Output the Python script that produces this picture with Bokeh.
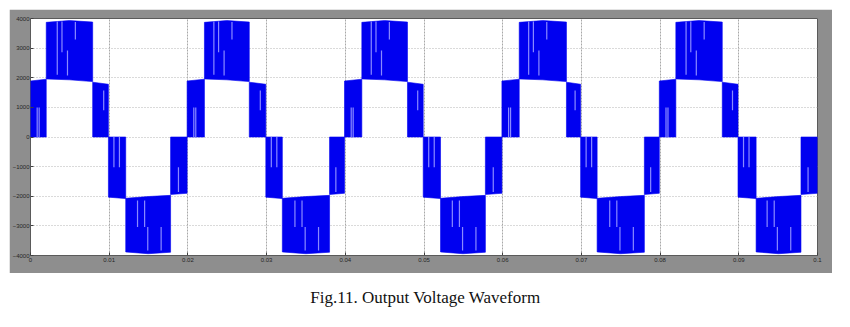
from bokeh.plotting import figure
from bokeh.layouts import column
from bokeh.models import Label, Range1d, FixedTicker
from bokeh.embed import file_html
from bokeh.resources import INLINE

# ---- data ----
x_ticks = [0.0, 0.01, 0.02, 0.03, 0.04, 0.05, 0.06, 0.07, 0.08, 0.09, 0.1]
x_tick_labels = ["0", "0.01", "0.02", "0.03", "0.04", "0.05", "0.06", "0.07", "0.08", "0.09", "0.1"]
y_ticks = [4000, 3000, 2000, 1000, 0, -1000, -2000, -3000, -4000]

# zero crossings (half-cycle boundaries), s
zero_cross = [0.0, 0.0099, 0.0199, 0.0299, 0.0399, 0.0499, 0.0599, 0.0699, 0.0799, 0.0899, 0.1]
# time where the output steps up to the outer level in each half cycle, s
rise_t = [0.0020, 0.0121, 0.0221, 0.0320, 0.0421, 0.0521, 0.0621, 0.0720, 0.0820, 0.0922]
# time where the output steps back to the inner level, s
fall_t = [0.0079, 0.0178, 0.0278, 0.0380, 0.0479, 0.0578, 0.0681, 0.0780, 0.0879, 0.0979]
polarity = [1, -1, 1, -1, 1, -1, 1, -1, 1, -1]

# envelope levels, V
pos_lead_top = [1890, 1950]
pos_peak = [3870, 3930, 3880]
pos_mid = [1960, 1930, 1870]
pos_trail_top = [1850, 1780]
neg_lead_bot = [-2030, -2080]
neg_peak = [-3880, -3940, -3890]
neg_mid = [-2070, -2010, -1970]
neg_trail_bot = [-1940, -1900]

# lighter PWM stripes: time after zero crossing (s), from V, to V
pos_stripes = [(0.00085, 0, 1000), (0.0011, 0, 1000), (0.0034, 3900, 2100),
               (0.0040, 3900, 2860), (0.0047, 2920, 2080), (0.0057, 3880, 3290),
               (0.0093, 1570, 900)]
neg_stripes = [(0.0007, 0, -1020), (0.0014, 0, -1020), (0.0037, -2140, -3040),
               (0.0046, -2140, -3040), (0.0050, -3040, -3830), (0.0067, -3040, -3830),
               (0.0089, -1020, -1860)]

# ---- build band polygons ----
xs, ys = [], []
sx0, sx1, sy0, sy1 = [], [], [], []
for i, s in enumerate(polarity):
    t0, t1 = zero_cross[i], zero_cross[i + 1]
    tr, tf = rise_t[i], fall_t[i]
    tm = (tr + tf) / 2
    if s > 0:
        lead, peak, mid, trail, stripes = pos_lead_top, pos_peak, pos_mid, pos_trail_top, pos_stripes
    else:
        lead, peak, mid, trail, stripes = neg_lead_bot, neg_peak, neg_mid, neg_trail_bot, neg_stripes
    xs.append([t0, t0, tr, tr]); ys.append([0, lead[0], lead[1], 0])
    xs.append([tr, tr, tm, tf, tf, tm]); ys.append([mid[0], peak[0], peak[1], peak[2], mid[2], mid[1]])
    xs.append([tf, tf, t1, t1]); ys.append([0, trail[0], trail[1], 0])
    for (dt, a, b) in stripes:
        sx0.append(t0 + dt); sx1.append(t0 + dt); sy0.append(a); sy1.append(b)

panel = "#8e8e8e"
p = figure(frame_width=787, frame_height=237, min_border_left=18, min_border_right=15,
           min_border_top=9, min_border_bottom=18, margin=(9, 17, 0, 9),
           x_range=Range1d(0, 0.1), y_range=Range1d(-4000, 4000),
           output_backend="svg", toolbar_location=None,
           background_fill_color="white", border_fill_color=panel,
           outline_line_color="#5a5a5a", outline_line_width=1)

p.patches(xs, ys, fill_color="#0000f0", line_color="#0000f0", line_width=0.6)
p.segment(sx0, sy0, sx1, sy1, line_color="#8a8aff", line_width=1.2)

p.xaxis.ticker = FixedTicker(ticks=x_ticks)
p.xaxis.major_label_overrides = {t: l for t, l in zip(x_ticks, x_tick_labels)}
p.yaxis.ticker = FixedTicker(ticks=y_ticks)
for ax in (p.xaxis, p.yaxis):
    ax.axis_line_color = None
    ax.major_tick_in = 3
    ax.major_tick_out = 0
    ax.major_tick_line_color = "#404040"
    ax.minor_tick_line_color = None
    ax.major_label_text_font = "Liberation Sans"
    ax.major_label_text_font_size = "6px"
    ax.major_label_text_color = "#262626"
p.xaxis.major_label_standoff = 2
p.yaxis.major_label_standoff = 1

p.xgrid.ticker = FixedTicker(ticks=x_ticks)
p.ygrid.ticker = FixedTicker(ticks=y_ticks)
p.xgrid.grid_line_color = "#a8a8a8"
p.xgrid.grid_line_dash = "2 1"
p.ygrid.grid_line_color = "#b4b4b4"
p.ygrid.grid_line_dash = "1 2"

p.add_layout(Label(x=5, y=258, x_units="canvas", y_units="canvas", text="Time offset:  0",
                   text_baseline="middle",
                   text_font="Liberation Sans", text_font_size="6px",
                   text_color="#262626"))

cap = figure(width=850, height=54, min_border=0, x_axis_type=None, y_axis_type=None,
             x_range=Range1d(0, 1), y_range=Range1d(0, 1),
             output_backend="svg", toolbar_location=None,
             background_fill_color="white", border_fill_color="white",
             outline_line_color=None)
cap.grid.visible = False
cap.add_layout(Label(x=425, y=24, x_units="canvas", y_units="canvas",
                     text="Fig.11. Output Voltage Waveform", text_align="center",
                     text_baseline="middle",
                     text_font="Liberation Serif", text_font_size="17px",
                     text_color="#111111"))

layout = column(p, cap, spacing=0)
open("out.html", "w").write(file_html(layout, INLINE))
